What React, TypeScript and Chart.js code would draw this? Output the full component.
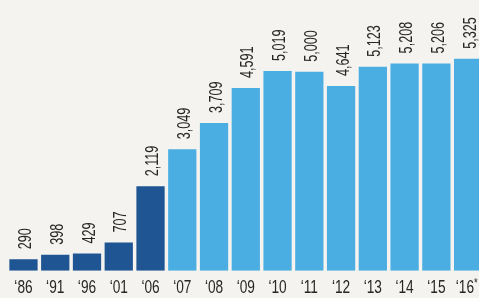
import React, { useEffect, useRef } from "react";
import { Chart, registerables } from "chart.js";

Chart.register(...registerables);

const categories = ["‘86", "‘91", "‘96", "‘01", "‘06", "‘07", "‘08", "‘09", "‘10", "‘11", "‘12", "‘13", "‘14", "‘15", "‘16*"];
const values = [290, 398, 429, 707, 2119, 3049, 3709, 4591, 5019, 5000, 4641, 5123, 5208, 5206, 5325];
const valueLabels = ["290", "398", "429", "707", "2,119", "3,049", "3,709", "4,591", "5,019", "5,000", "4,641", "5,123", "5,208", "5,206", "5,325"];
const darkCount = 5;

const DARK = "#1e5592";
const LIGHT = "#4aaee2";
const BG = "#f4f3ef";
const TEXT = "#262626";
const FONT = "'Liberation Sans', Arial, sans-serif";

const textPlugin = {
  id: "condensedText",
  afterDatasetsDraw(chart: any) {
    const ctx = chart.ctx;
    const meta = chart.getDatasetMeta(0);
    const xScale = chart.scales.x;
    ctx.save();
    ctx.fillStyle = TEXT;
    // value labels, rotated
    ctx.font = `18px ${FONT}`;
    ctx.textAlign = "left";
    ctx.textBaseline = "alphabetic";
    meta.data.forEach((bar: any, i: number) => {
      ctx.save();
      ctx.translate(bar.x + 7.5, bar.y - 10);
      ctx.rotate(-Math.PI / 2);
      ctx.scale(0.7, 1);
      ctx.fillText(valueLabels[i], 0, 0);
      ctx.restore();
    });
    // category tick labels
    categories.forEach((lab: string, i: number) => {
      const x = xScale.getPixelForTick(i);
      ctx.save();
      ctx.translate(x, chart.chartArea.bottom + 22);
      ctx.scale(0.72, 1);
      ctx.font = `19px ${FONT}`;
      if (lab.endsWith("*")) {
        const base = lab.slice(0, -1);
        const w = ctx.measureText(base).width;
        ctx.font = `13px ${FONT}`;
        const ws = ctx.measureText("*").width;
        const start = -(w + ws) / 2 - 2;
        ctx.textAlign = "left";
        ctx.fillText("*", start + w, -6);
        ctx.font = `19px ${FONT}`;
        ctx.fillText(base, start, 0);
      } else {
        ctx.textAlign = "center";
        ctx.fillText(lab, 0, 0);
      }
      ctx.restore();
    });
    ctx.restore();
  },
};

export default function App() {
  const ref = useRef<HTMLCanvasElement>(null);
  useEffect(() => {
    if (!ref.current) return;
    const chart = new Chart(ref.current, {
      type: "bar",
      data: {
        labels: categories,
        datasets: [
          {
            data: values,
            backgroundColor: values.map((_, i) => (i < darkCount ? DARK : LIGHT)),
            borderWidth: 0,
            barPercentage: 0.89,
            categoryPercentage: 1,
          },
        ],
      },
      options: {
        animation: false,
        responsive: false,
        maintainAspectRatio: false,
        layout: { padding: { left: 7.6, right: 0, top: 0, bottom: 27.3 } },
        plugins: { legend: { display: false }, tooltip: { enabled: false } },
        scales: {
          x: { display: false },
          y: { display: false, min: 0, max: 6800 },
        },
      },
      plugins: [textPlugin],
    });
    return () => chart.destroy();
  }, []);
  return (
    <div style={{ position: "fixed", left: 0, top: 0, width: 479, height: 298, overflow: "hidden", background: BG }}>
      <canvas ref={ref} width={484} height={298} style={{ display: "block", width: 484, height: 298 }} />
    </div>
  );
}
